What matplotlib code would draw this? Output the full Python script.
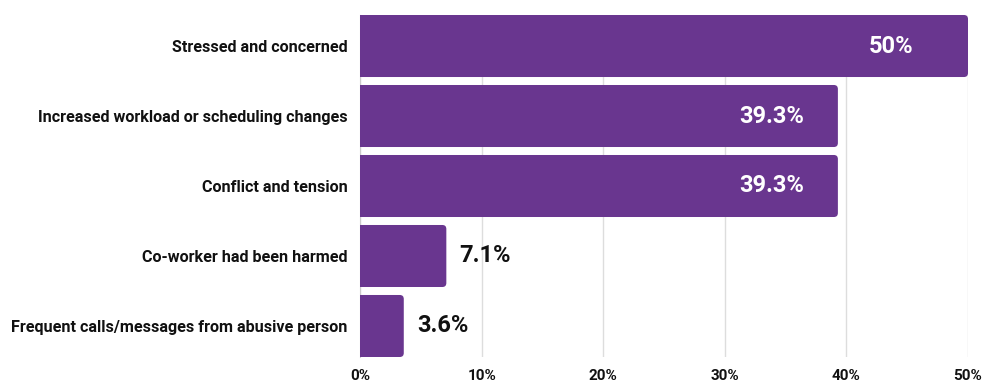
import numpy as np
import matplotlib
matplotlib.use('Agg')
import matplotlib.pyplot as plt
from matplotlib.patches import FancyBboxPatch

plt.rcParams['font.family'] = ['Roboto', 'DejaVu Sans']

# data
categories = ['Stressed and concerned',
              'Increased workload or scheduling changes',
              'Conflict and tension',
              'Co-worker had been harmed',
              'Frequent calls/messages from abusive person']
values = [50, 39.3, 39.3, 7.1, 3.6]
value_labels = ['50%', '39.3%', '39.3%', '7.1%', '3.6%']
ticks = [0, 10, 20, 30, 40, 50]
tick_labels = ['0%', '10%', '20%', '30%', '40%', '50%']

bar_color = '#69368f'
W, H = 984, 383

fig = plt.figure(figsize=(W / 100, H / 100), dpi=100)
ax = fig.add_axes([360 / W, 1 - 357 / H, 608 / W, 342 / H])

bh = 0.886
y = np.arange(len(categories))
ax.set_xlim(0, 50)
ax.set_ylim(len(categories) - 1 + bh / 2, -bh / 2)

# rounded corners (right side only; left is clipped)
px_x = 50 / 608.0
px_y = (len(categories) - 1 + bh) / 342.0
r = 4
for yi, v in zip(y, values):
    p = FancyBboxPatch((-1, yi - bh / 2), v + 1, bh,
                       boxstyle='round,pad=0,rounding_size=%f' % (r * px_x),
                       mutation_aspect=px_y / px_x,
                       facecolor=bar_color, edgecolor='none', zorder=3)
    ax.add_patch(p)

for yi, v, lab in zip(y, values, value_labels):
    if v > 20:
        ax.annotate(lab, (v, yi), xytext=(-99, 0), textcoords='offset pixels',
                    ha='left', va='center', color='white', fontsize=17,
                    fontweight='bold', zorder=4)
    else:
        ax.annotate(lab, (v, yi), xytext=(13, 0), textcoords='offset pixels',
                    ha='left', va='center', color='#111111', fontsize=17,
                    fontweight='bold', zorder=4)

ax.set_yticks(y)
ax.set_yticklabels(categories, fontsize=11.6, fontweight='bold', color='#111111')
ax.set_xticks(ticks)
ax.set_xticklabels(tick_labels, fontsize=11, fontweight='bold', color='#111111')
ax.tick_params(axis='both', length=0)
ax.tick_params(axis='y', pad=9)
ax.tick_params(axis='x', pad=9)

ax.grid(axis='x', color='#dddddd', linewidth=1, zorder=0)
ax.set_axisbelow(True)
for s in ['top', 'right', 'bottom']:
    ax.spines[s].set_visible(False)
ax.spines['left'].set_color('#cccccc')

fig.savefig('out.png', dpi=100)
